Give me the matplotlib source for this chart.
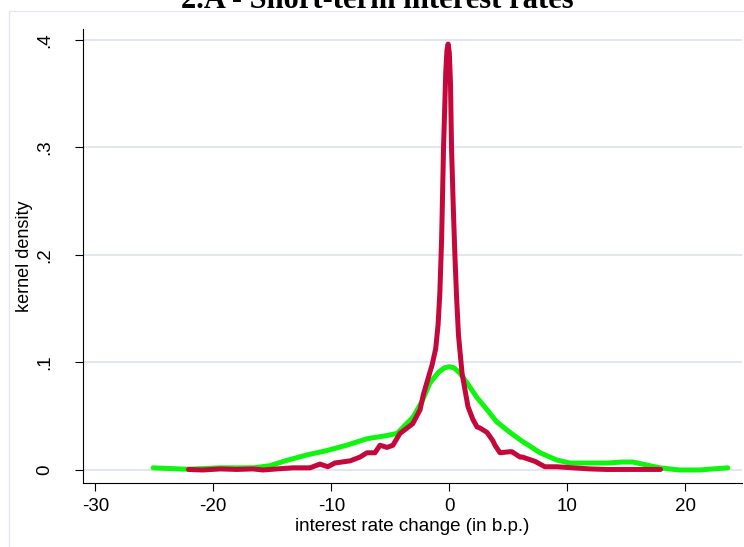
import matplotlib.pyplot as plt
from matplotlib.patches import Rectangle
import numpy as np

# Kernel density curves (x in b.p., y = density)
green_x = [-25.1, -22.2, -19.4, -16.6, -15.2, -13.75, -12.06, -10.4, -8.7, -7.0,
           -5.3, -4.43, -3.08, -2.3, -1.64, -0.9, -0.4, 0.0, 0.4, 0.9, 1.5,
           2.3, 3.2, 4.0, 4.9, 6.0, 7.7, 9.1, 10.2, 11.65, 13.35, 14.7, 15.55,
           16.7, 17.85, 19.5, 21.2, 22.35, 23.6]
green_y = [0.002, 0.0007, 0.002, 0.002, 0.004, 0.009, 0.014, 0.018, 0.023, 0.029,
           0.032, 0.034, 0.049, 0.064, 0.081, 0.091, 0.095, 0.096, 0.095, 0.090, 0.081,
           0.068, 0.056, 0.045, 0.037, 0.028, 0.016, 0.0093, 0.0065, 0.0065, 0.0065,
           0.0074, 0.0074, 0.0047, 0.002, 0.0, 0.0, 0.001, 0.002]

red_x = [-22.1, -20.9, -19.4, -18.0, -16.65, -15.8, -14.6, -13.25, -11.8, -10.96,
         -10.3, -9.7, -8.4, -7.57, -6.98, -6.3, -5.87, -5.28, -4.78, -4.18, -3.58,
         -3.1, -2.48, -2.2, -1.8, -1.45, -1.15, -0.95, -0.8, -0.65, -0.49, -0.3,
         -0.2, -0.1, 0.0, 0.1, 0.19, 0.35, 0.48, 0.62, 0.78, 1.08, 1.58, 2.0, 2.35,
         2.6, 3.19, 3.45, 3.7, 3.87, 4.3, 5.14, 5.3, 6.0, 6.2, 7.27, 8.1, 9.1, 10.5,
         11.9, 13.35, 14.8, 16.2, 17.9]
red_y = [0.0005, 0.0, 0.001, 0.0005, 0.001, 0.0, 0.001, 0.002, 0.002, 0.0055,
         0.003, 0.0065, 0.0085, 0.012, 0.016, 0.016, 0.023, 0.021, 0.023, 0.034, 0.039,
         0.043, 0.056, 0.070, 0.085, 0.098, 0.113, 0.135, 0.165, 0.215, 0.299, 0.370,
         0.390, 0.396, 0.388, 0.360, 0.299, 0.240, 0.198, 0.160, 0.125, 0.090, 0.059,
         0.047, 0.040, 0.039, 0.035, 0.031, 0.027, 0.023, 0.016, 0.017, 0.017, 0.012,
         0.012, 0.008, 0.003, 0.003, 0.002, 0.001, 0.0005, 0.0005, 0.0005, 0.0005]

xticks = [-30, -20, -10, 0, 10, 20]
yticks = [0, 0.1, 0.2, 0.3, 0.4]
ytick_labels = ["0", ".1", ".2", ".3", ".4"]

plt.rcParams['font.family'] = ['Liberation Sans', 'DejaVu Sans']

fig = plt.figure(figsize=(7.44, 5.47), dpi=100)
ax = fig.add_axes([82.8 / 744, 1 - 483 / 547, (741.7 - 82.8) / 744, (483 - 29) / 547])

# outer graph frame (light grey, runs off the image)
fig.patches.append(Rectangle((9 / 744, -0.2), 2, 1 - 11 / 547 + 0.2,
                             transform=fig.transFigure, fill=False,
                             edgecolor='#e3e7ef', linewidth=1.0))

for yv in yticks:
    ax.axhline(yv, color='#dde2ee', linewidth=1.2, zorder=1)

ax.plot(green_x, green_y, color='#10f510', linewidth=3.6,
        solid_capstyle='round', solid_joinstyle='round', zorder=3)
ax.plot(red_x, red_y, color='#c4083b', linewidth=3.6,
        solid_capstyle='round', solid_joinstyle='round', zorder=4)

ax.set_xlim(-31.06, 24.78)
ax.set_ylim(-0.0121, 0.410)

ax.spines['top'].set_visible(False)
ax.spines['right'].set_visible(False)
ax.spines['left'].set_linewidth(0.8)
ax.spines['bottom'].set_linewidth(0.8)

ax.set_xticks(xticks)
ax.set_xticklabels([str(v) for v in xticks])
ax.set_yticks(yticks)
ax.set_yticklabels(ytick_labels, rotation=90, va='center')
ax.tick_params(axis='x', length=6, width=0.8, pad=5, labelsize=13.5)
ax.tick_params(axis='y', length=5.5, width=0.8, pad=16, labelsize=13.5)

ax.set_xlabel("interest rate change (in b.p.)", fontsize=13.5, labelpad=2)
ax.set_ylabel("kernel density", fontsize=13)
ax.yaxis.set_label_coords(-0.075, 0.5)

fig.text(377 / 744, 1 - 8 / 547, "2.A - Short-term interest rates",
         ha='center', va='baseline', fontsize=22, fontweight='bold',
         family='Liberation Serif')

fig.savefig("out.png", dpi=100)
